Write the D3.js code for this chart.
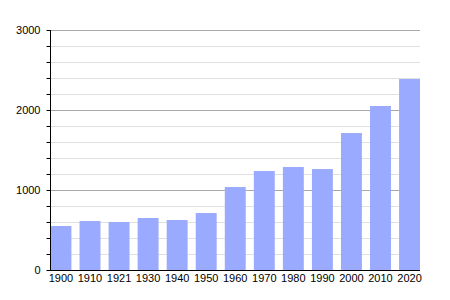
<!DOCTYPE html>
<html>
<head>
<meta charset="utf-8">
<script src="https://cdn.jsdelivr.net/npm/d3@7"></script>
<style>
  body { margin: 0; background: #fff; }
  text { font-family: "Liberation Sans", Arial, sans-serif; font-size: 11px; fill: #000; }
</style>
</head>
<body>
<script>
// years and population
let years = ["1900", "1910", "1921", "1930", "1940", "1950", "1960", "1970", "1980", "1990", "2000", "2010", "2020"];
let population = [550, 612, 600, 650, 625, 712, 1037, 1237, 1287, 1262, 1712, 2050, 2387];
let majorTicks = [0, 1000, 2000, 3000];
let minorTicks = d3.range(0, 3001, 200);

let width = 450, height = 300;
let svg = d3.select("body").append("svg").attr("width", width).attr("height", height);

let x = d3.scaleBand().domain(years).range([50.5, 420]).paddingInner(0.28).paddingOuter(0);
let y = d3.scaleLinear().domain([0, 3000]).range([270, 30]);

// grid lines
svg.append("g").selectAll("line").data(minorTicks.filter(d => d % 1000 !== 0)).enter().append("line")
    .attr("x1", 50).attr("x2", 420)
    .attr("y1", d => Math.round(y(d)) + 0.5).attr("y2", d => Math.round(y(d)) + 0.5)
    .attr("stroke", "#e0e0e0");
svg.append("g").selectAll("line").data(majorTicks.slice(1)).enter().append("line")
    .attr("x1", 50).attr("x2", 420)
    .attr("y1", d => Math.round(y(d)) + 0.5).attr("y2", d => Math.round(y(d)) + 0.5)
    .attr("stroke", "#a8a8a8");

// bars
svg.append("g").selectAll("rect").data(population).enter().append("rect")
    .attr("x", (d, i) => x(years[i]))
    .attr("y", d => y(d))
    .attr("width", x.bandwidth())
    .attr("height", d => y(0) - y(d))
    .attr("fill", "#99aaff");

// y axis
let yAxis = svg.append("g").attr("transform", "translate(50.5,0)");
yAxis.append("line").attr("y1", 30).attr("y2", 270).attr("stroke", "#000");
yAxis.selectAll(".minor").data(minorTicks).enter().append("line")
    .attr("x1", -4).attr("x2", 0)
    .attr("y1", d => Math.round(y(d)) + 0.5).attr("y2", d => Math.round(y(d)) + 0.5)
    .attr("stroke", "#000");
yAxis.selectAll("text").data(majorTicks).enter().append("text")
    .attr("x", -10).attr("y", d => y(d)).attr("dy", "0.35em")
    .attr("text-anchor", "end")
    .text(d => d);

// x axis
svg.append("line").attr("x1", 50).attr("x2", 420).attr("y1", 270.5).attr("y2", 270.5).attr("stroke", "#000");
svg.append("g").selectAll("text").data(years).enter().append("text")
    .attr("x", d => x(d) + x.bandwidth() / 2)
    .attr("y", 282)
    .attr("text-anchor", "middle")
    .text(d => d);
</script>
</body>
</html>
